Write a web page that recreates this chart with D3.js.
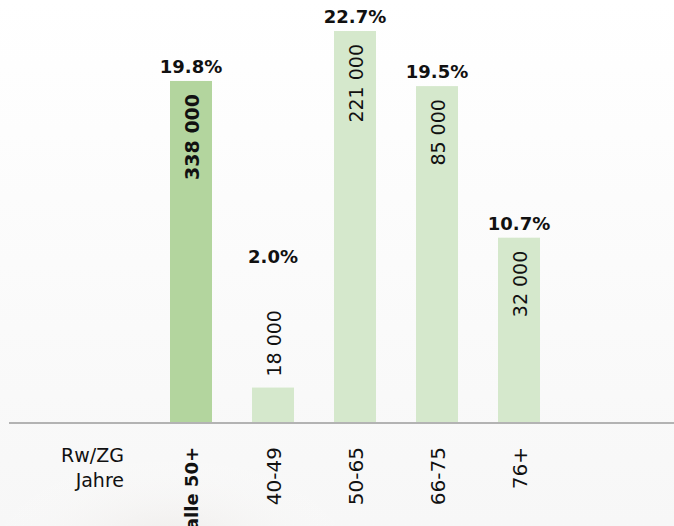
<!DOCTYPE html>
<html>
<head>
<meta charset="utf-8">
<script src="https://cdn.jsdelivr.net/npm/d3@7"></script>
<style>
  body { margin: 0; background: #fff; }
  text { font-family: "DejaVu Sans", sans-serif; fill: #111; }
</style>
</head>
<body>
<svg width="674" height="526"></svg>
<script>
const categories = ["alle 50+", "40-49", "50-65", "66-75", "76+"];
const shares = [19.8, 2.0, 22.7, 19.5, 10.7];
const counts = ["338 000", "18 000", "221 000", "85 000", "32 000"];
const axisTitle = ["Rw/ZG", "Jahre"];

const data = categories.map((c, i) => ({ cat: c, pct: shares[i], count: counts[i], total: i === 0 }));

const svg = d3.select("svg");
const width = +svg.attr("width");
const height = +svg.attr("height");

// faint photo-like shading at the lower left
const defs = svg.append("defs");
const grad = defs.append("radialGradient").attr("id", "shade")
  .attr("cx", "0.5").attr("cy", "0.5").attr("r", "0.5");
grad.append("stop").attr("offset", "0%").attr("stop-color", "#e8e4e0").attr("stop-opacity", 0.6);
grad.append("stop").attr("offset", "100%").attr("stop-color", "#ffffff").attr("stop-opacity", 0);
const fade = defs.append("linearGradient").attr("id", "fade")
  .attr("x1", 0).attr("y1", 0).attr("x2", 0).attr("y2", 1);
fade.append("stop").attr("offset", "0%").attr("stop-color", "#ffffff");
fade.append("stop").attr("offset", "100%").attr("stop-color", "#f7f7f7");
svg.append("rect").attr("width", width).attr("height", height).attr("fill", "url(#fade)");
svg.append("ellipse").attr("cx", 170).attr("cy", 545).attr("rx", 190).attr("ry", 95)
  .attr("fill", "url(#shade)");

const baseline = 422;
const x = d3.scaleBand()
  .domain(categories)
  .range([150, 560])
  .paddingInner(0.488)
  .paddingOuter(0.244);
const y = d3.scaleLinear()
  .domain([0, 22.7])
  .range([baseline, 31]);

const g = svg.append("g");

g.selectAll("rect.bar")
  .data(data)
  .enter()
  .append("rect")
  .attr("class", "bar")
  .attr("x", d => x(d.cat))
  .attr("y", d => y(d.pct))
  .attr("width", x.bandwidth())
  .attr("height", d => baseline - y(d.pct))
  .attr("fill", d => d.total ? "#b3d59e" : "#d5e8cc");

// axis line
svg.append("line")
  .attr("x1", 9).attr("x2", width)
  .attr("y1", baseline + 1).attr("y2", baseline + 1)
  .attr("stroke", "#b3b3b3")
  .attr("stroke-width", 2);

const cx = d => x(d.cat) + x.bandwidth() / 2 + 1;
const inside = d => baseline - y(d.pct) > 110;

// rotated counts
g.selectAll("text.count")
  .data(data)
  .enter()
  .append("text")
  .attr("class", "count")
  .attr("transform", d => {
    const ty = inside(d) ? y(d.pct) + 13 : y(d.pct) - 11;
    return `translate(${cx(d)},${ty}) rotate(-90)`;
  })
  .attr("text-anchor", d => inside(d) ? "end" : "start")
  .attr("dy", "0.36em")
  .style("font-size", "19px")
  .attr("font-weight", d => d.total ? "bold" : "normal")
  .text(d => d.count);

// percentages
g.selectAll("text.pct")
  .data(data)
  .enter()
  .append("text")
  .attr("class", "pct")
  .attr("x", d => cx(d) - 1)
  .attr("y", d => inside(d) ? y(d.pct) - 8 : y(d.pct) - 125)
  .attr("text-anchor", "middle")
  .style("font-size", "18px")
  .attr("font-weight", "bold")
  .text(d => d.pct.toFixed(1) + "%");

// category labels
g.selectAll("text.cat")
  .data(data)
  .enter()
  .append("text")
  .attr("class", "cat")
  .attr("transform", d => `translate(${cx(d)},447) rotate(-90)`)
  .attr("text-anchor", "end")
  .attr("dy", "0.36em")
  .style("font-size", d => d.total ? "18px" : "20px")
  .attr("font-weight", d => d.total ? "bold" : "normal")
  .text(d => d.cat);

svg.selectAll("text.title")
  .data(axisTitle)
  .enter()
  .append("text")
  .attr("class", "title")
  .attr("x", 124)
  .attr("y", (d, i) => 462 + i * 25)
  .attr("text-anchor", "end")
  .style("font-size", "19px")
  .text(d => d);
</script>
</body>
</html>
